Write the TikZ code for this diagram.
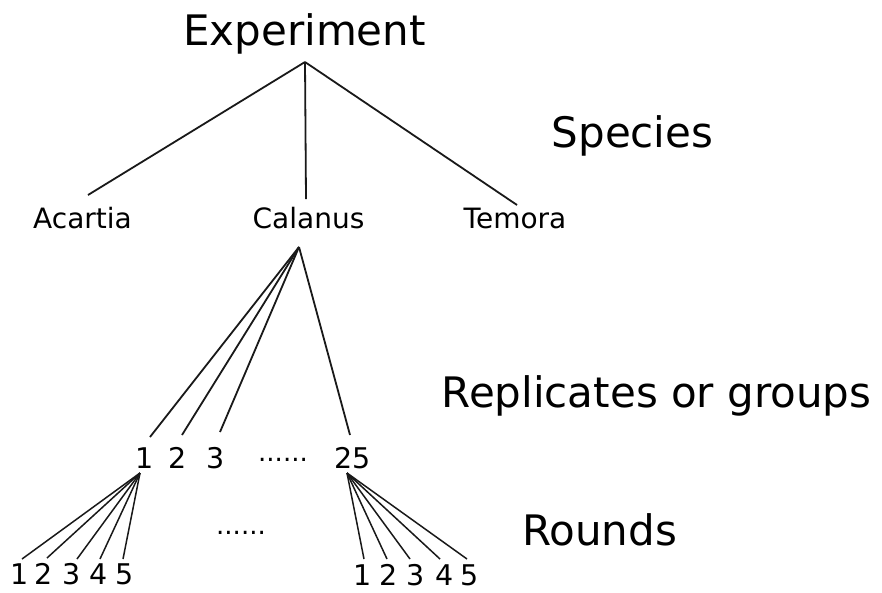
\documentclass[tikz,border=0pt]{standalone}
\usepackage{fontspec}
\setmainfont{DejaVu Sans}
\begin{document}
\begin{tikzpicture}[x=1pt,y=-1pt,
  big/.style={font=\fontsize{42}{50}\selectfont, inner sep=0pt, anchor=base},
  species/.style={font=\fontsize{28}{34}\selectfont, inner sep=0pt, anchor=base},
  num/.style={font=\fontsize{28.5}{34}\selectfont, inner sep=0pt, anchor=base},
  dots/.style={font=\fontsize{26}{30}\selectfont, inner sep=0pt, anchor=base},
  edge/.style={line width=1.8pt, black!90},
  thin edge/.style={line width=1.5pt, black!90}]
\useasboundingbox (0,0) rectangle (882,592);
% level labels
\node[big] (experiment) at (304.5,45) {Experiment};
\node[big] (lspecies) at (632.5,147) {Species};
\node[big] (lrep) at (656.5,407) {Replicates or groups};
\node[big] (lrounds) at (599.5,545) {Rounds};
% species
\node[species] (acartia) at (82.5,228) {Acartia};
\node[species] (calanus) at (308.5,228) {Calanus};
\node[species] (temora) at (515,228) {Temora};
% replicates
\node[num] (r1) at (145,468) {1};
\node[num] (r2) at (177.5,468) {2};
\node[num] (r3) at (215.5,468) {3};
\node[dots] (rdots) at (283,461) {......};
\node[num] (r25) at (352.5,468) {25};
% rounds
\node[num] (a1) at (20,584) {1};
\node[num] (a2) at (43.5,584) {2};
\node[num] (a3) at (71.5,584) {3};
\node[num] (a4) at (98.5,584) {4};
\node[num] (a5) at (124.5,584) {5};
\node[dots] (mdots) at (241,534) {......};
\node[num] (b1) at (363,585) {1};
\node[num] (b2) at (388.5,585) {2};
\node[num] (b3) at (415.5,585) {3};
\node[num] (b4) at (444.5,585) {4};
\node[num] (b5) at (470,585) {5};
% connector ends
\coordinate (expA) at (305,62);
\coordinate (acT) at (88,195);
\coordinate (caT) at (306,199);
\coordinate (teT) at (517,205);
\coordinate (caA) at (299,247);
\coordinate (r1T) at (150,437);
\coordinate (r2T) at (182,435);
\coordinate (r3T) at (220,432);
\coordinate (r25T) at (350,435);
\coordinate (r1A) at (140,473);
\coordinate (r25A) at (347,473);
\coordinate (a1T) at (22,559);
\coordinate (a2T) at (47,558);
\coordinate (a3T) at (77,559);
\coordinate (a4T) at (100,559);
\coordinate (a5T) at (123,559);
\coordinate (b1T) at (364,559);
\coordinate (b2T) at (387,559);
\coordinate (b3T) at (410,559);
\coordinate (b4T) at (440,559);
\coordinate (b5T) at (467,559);
% connectors
\foreach \t in {acT,caT,teT} \draw[edge] (expA) -- (\t);
\foreach \t in {r1T,r2T,r3T,r25T} \draw[edge] (caA) -- (\t);
\foreach \t in {a1T,a2T,a3T,a4T,a5T} \draw[thin edge] (r1A) -- (\t);
\foreach \t in {b1T,b2T,b3T,b4T,b5T} \draw[thin edge] (r25A) -- (\t);
\end{tikzpicture}
\end{document}
